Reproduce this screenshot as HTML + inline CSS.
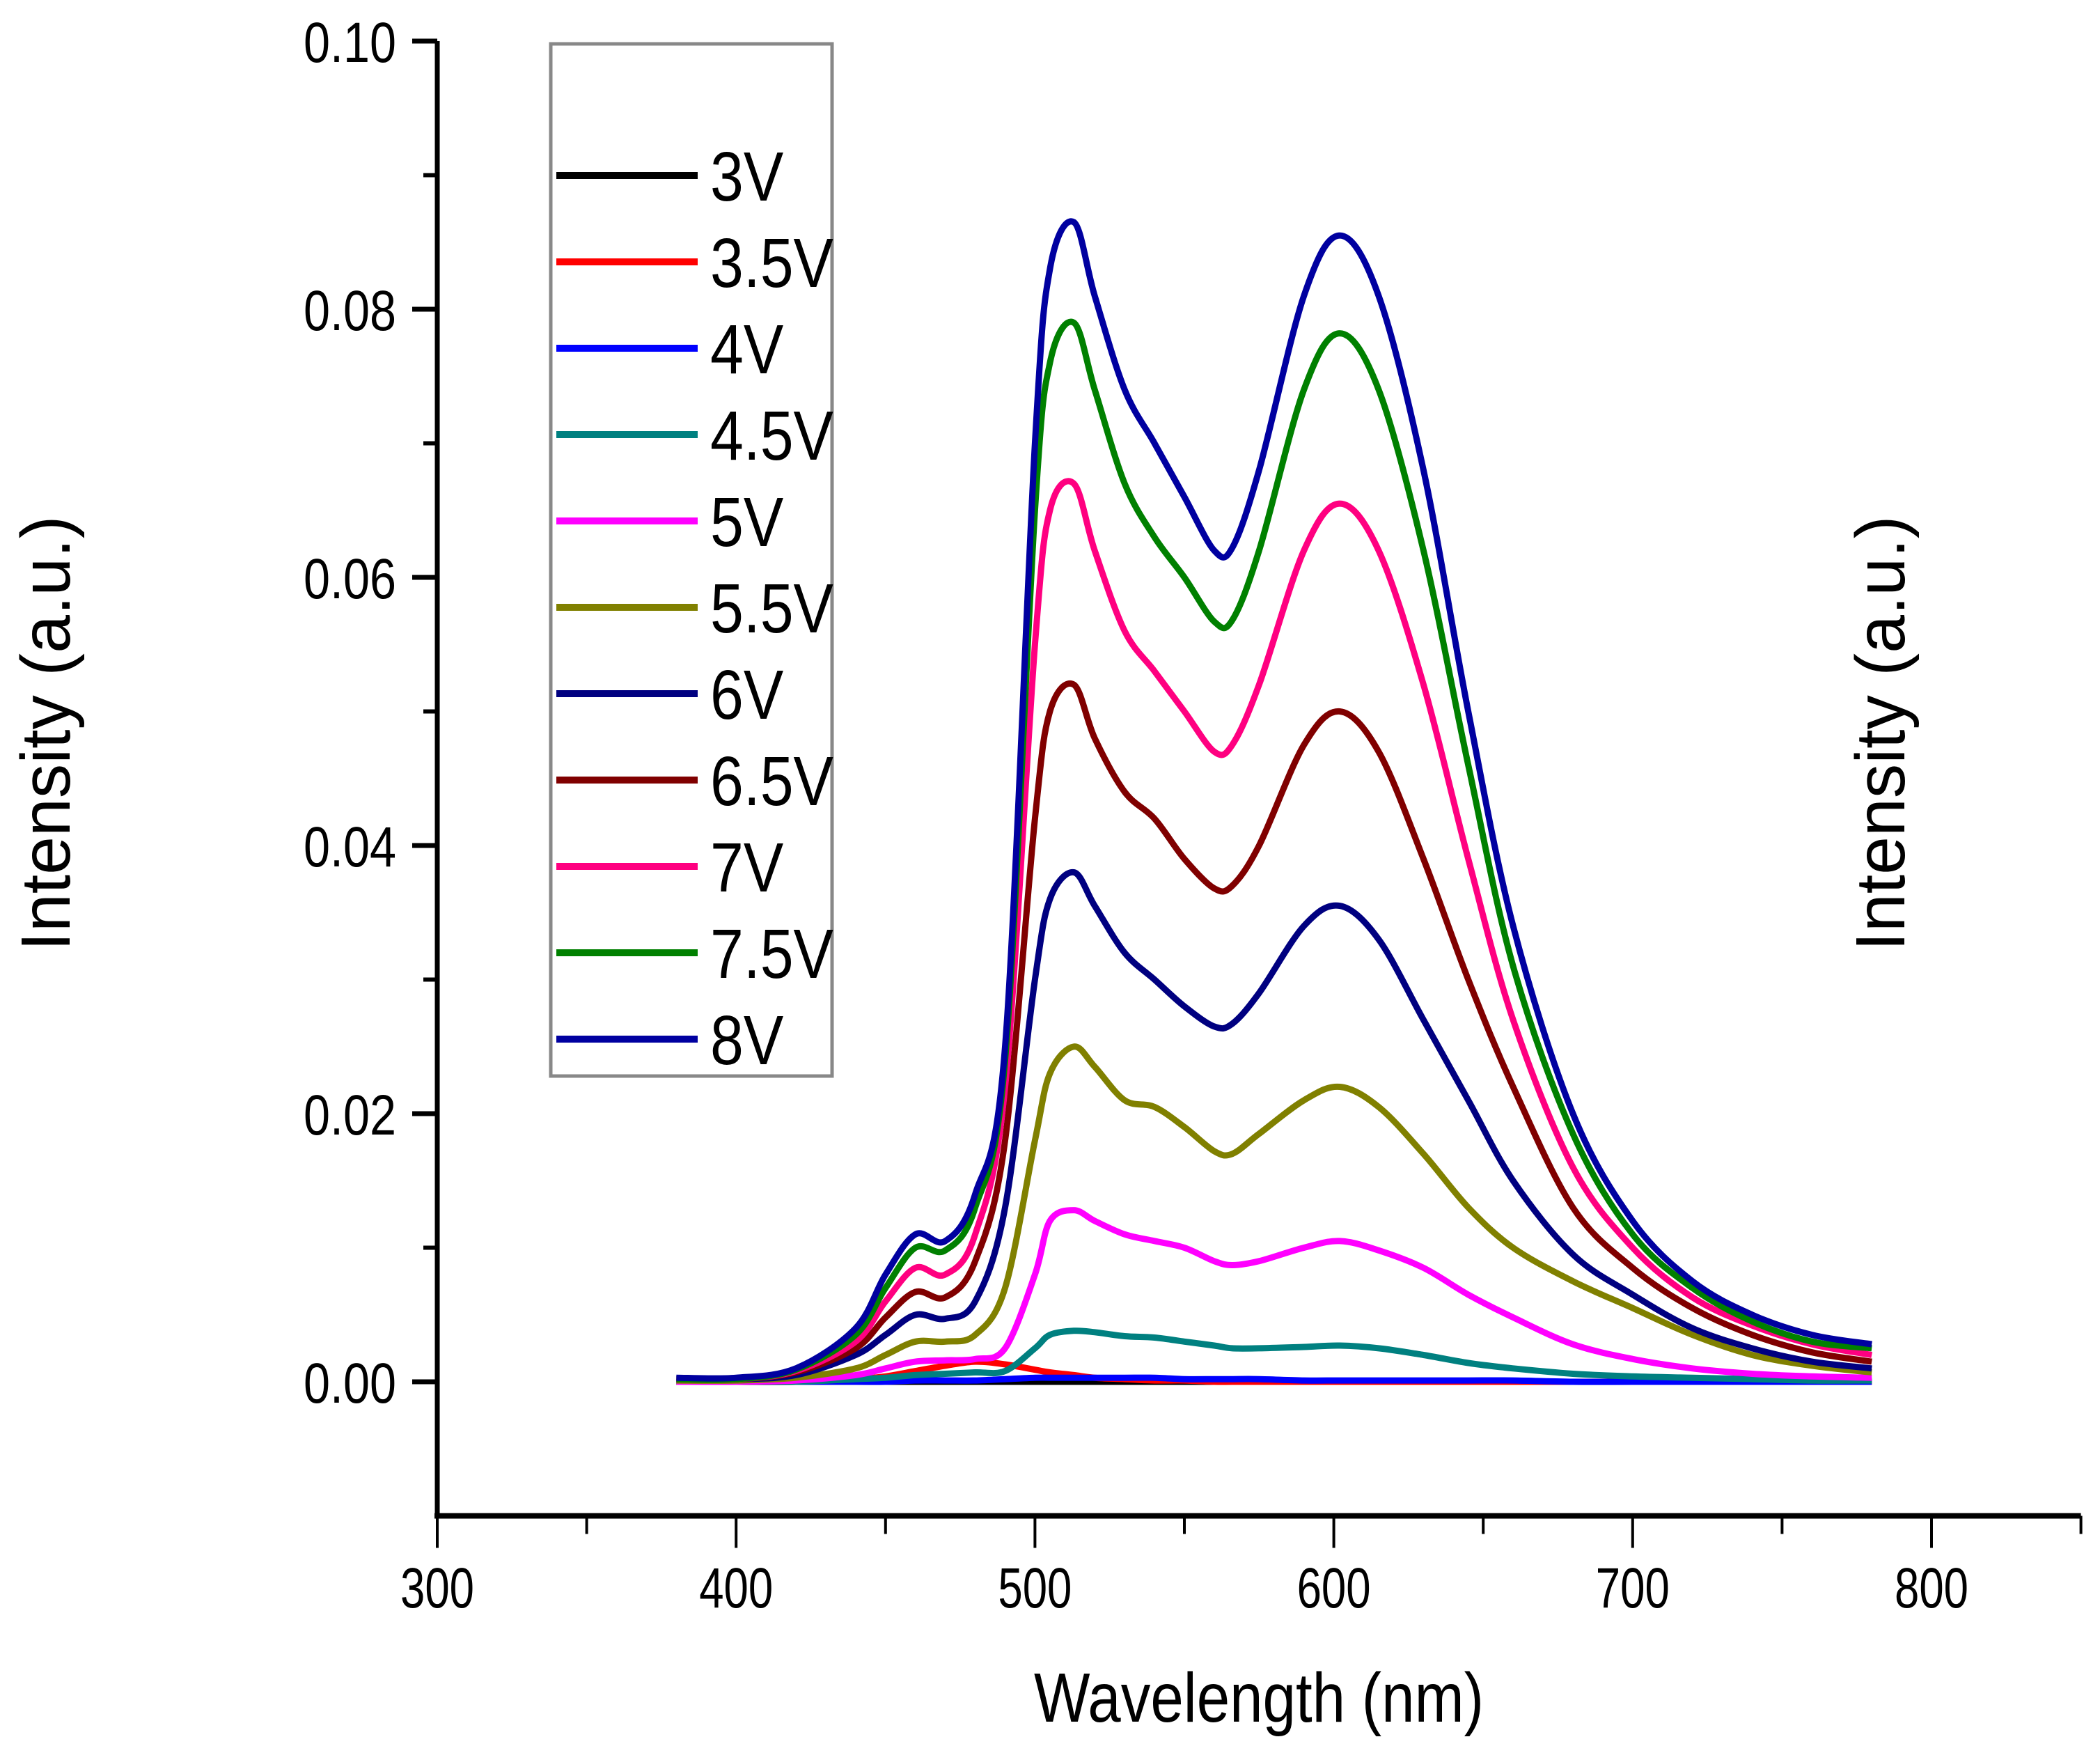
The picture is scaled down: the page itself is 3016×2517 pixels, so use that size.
<!DOCTYPE html>
<html><head><meta charset="utf-8"><style>
html,body{margin:0;padding:0;background:#fff;}
svg{display:block;font-family:"Liberation Sans",Arial,sans-serif;}
</style></head><body>
<svg id="chart" width="3016" height="2517" viewBox="0 0 3016 2517" xmlns="http://www.w3.org/2000/svg">
<rect x="0" y="0" width="3016" height="2517" fill="#fff"/>
<g id="axes"></g>
<g id="series"></g>
<g id="legend"></g>
<text x="1808" y="2472" font-size="100" text-anchor="middle" textLength="646" lengthAdjust="spacingAndGlyphs">Wavelength (nm)</text>
<text x="0" y="0" font-size="100" text-anchor="middle" textLength="625" lengthAdjust="spacingAndGlyphs" transform="translate(100,1053) rotate(-90)">Intensity (a.u.)</text>
<text x="0" y="0" font-size="100" text-anchor="middle" textLength="625" lengthAdjust="spacingAndGlyphs" transform="translate(2735,1053) rotate(-90)">Intensity (a.u.)</text>
</svg>
<script>
const wavelengths = [380,400,420,440,450,460,470,480,490,500,505,513,520,530,540,550,560,566,575,590,602,615,630,645,660,680,700,720,740,760,780];
const seriesNames = ["3V","3.5V","4V","4.5V","5V","5.5V","6V","6.5V","7V","7.5V","8V"];
const seriesColors = ["#000000","#ff0000","#0000ff","#008080","#ff00ff","#808000","#000080","#800000","#ff0080","#008000","#0000a0"];
const v3 = [0,0,0,0,0,0,0,0,0,0,0,0,0,0,0,0,0,0,0,0,0,0,0,0,0,0,0,0,0,0,0];
const v35 = [0,0,0,.0002,.0004,.0008,.0012,.0015,.0013,.0009,.0007,.0005,.0003,.0002,.0001,.0001,0,0,0,0,0,0,0,0,0,0,0,0,0,0,0];
const v4 = [0,0,0,0,0,.0001,.0001,.0001,.0002,.0003,.0003,.0003,.0003,.0003,.0003,.0002,.0002,.0002,.0002,.0001,.0001,.0001,.0001,.0001,.0001,0,0,0,0,0,0];
const v45 = [0,0,0,.0002,.0003,.0005,.0006,.0007,.0008,.0025,.0035,.0038,.0037,.0034,.0033,.003,.0027,.0025,.0025,.0026,.0027,.0025,.002,.0014,.001,.0006,.0004,.0003,.0002,.0001,.0001];
const v5 = [0,0,.0001,.0005,.001,.0015,.0016,.0017,.0025,.008,.012,.0128,.012,.011,.0105,.010,.009,.0087,.009,.010,.0105,.0098,.0085,.0065,.0048,.0028,.0017,.001,.0006,.0004,.0003];
const v55 = [.0001,.0001,.0003,.001,.002,.003,.003,.0035,.007,.018,.023,.025,.0235,.021,.0205,.019,.0172,.017,.0185,.021,.022,.0205,.017,.013,.010,.0075,.0055,.0035,.002,.0012,.0007];
const v6 = [.0002,.0002,.0005,.002,.0035,.005,.0047,.006,.013,.030,.036,.038,.0355,.032,.030,.028,.0265,.0267,.029,.034,.0355,.033,.027,.021,.015,.0095,.0065,.004,.0025,.0015,.001];
const v65 = [.0002,.0002,.0007,.0025,.0048,.0067,.0063,.009,.018,.042,.050,.052,.048,.044,.042,.039,.0368,.037,.040,.0475,.050,.047,.039,.030,.022,.013,.0085,.0055,.0035,.0022,.0015];
const v7 = [.0002,.0002,.0008,.003,.006,.0085,.008,.011,.022,.055,.065,.067,.062,.056,.053,.050,.047,.0475,.052,.062,.0655,.062,.052,.039,.027,.016,.010,.0063,.0042,.0028,.002];
const v75 = [.0002,.0002,.0009,.0035,.007,.010,.0098,.013,.024,.065,.076,.079,.074,.067,.063,.060,.0567,.0568,.062,.074,.0782,.074,.062,.046,.031,.0185,.011,.007,.0045,.003,.0025];
const v8 = [.0003,.0003,.001,.004,.008,.011,.0105,.014,.025,.070,.083,.0865,.081,.074,.070,.066,.062,.0622,.068,.081,.0855,.081,.068,.050,.034,.020,.012,.0075,.005,.0035,.0028];
const xMajorTicks = [300,400,500,600,700,800];
const xMinorTicks = [350,450,550,650,750,850];
const yMajorTicks = [0,0.02,0.04,0.06,0.08,0.10];
const yTickLabels = ["0.00","0.02","0.04","0.06","0.08","0.10"];
const yMinorTicks = [0.01,0.03,0.05,0.07,0.09];
const allSeries = [v3,v35,v4,v45,v5,v55,v6,v65,v7,v75,v8];

const NS = "http://www.w3.org/2000/svg";
const X0 = 628, PX_PER_NM = 4.292, Y0 = 1984, PX_PER_UNIT = 19250;
function xs(nm){ return X0 + (nm - 300) * PX_PER_NM; }
function ys(v){ return Y0 - v * PX_PER_UNIT; }
function mk(tag, attrs, parent){ const e = document.createElementNS(NS, tag); for (const k in attrs) e.setAttribute(k, attrs[k]); parent.appendChild(e); return e; }

const axes = document.getElementById('axes');
const yBottom = ys(-0.01), yTop = ys(0.10), xRight = xs(850);
let l = mk('line', {x1:X0, y1:yTop, x2:X0, y2:yBottom+4, stroke:'#000','stroke-width':7}, axes);


l = mk('line', {x1:X0-4, y1:yBottom, x2:xRight, y2:yBottom, stroke:'#000','stroke-width':8}, axes);


xMajorTicks.forEach(function(t){
  const tk = mk('line', {x1:xs(t), y1:yBottom, x2:xs(t), y2:yBottom+46, stroke:'#000','stroke-width':4}, axes);
  
  
  const tx = mk('text', {x:xs(t), y:2308, 'font-size':82, 'text-anchor':'middle', textLength:106, lengthAdjust:'spacingAndGlyphs'}, axes);
  tx.textContent = String(t);
  
  
});
xMinorTicks.forEach(function(t){
  const tk = mk('line', {x1:xs(t), y1:yBottom, x2:xs(t), y2:yBottom+26, stroke:'#000','stroke-width':4}, axes);
  
  
});
yMajorTicks.forEach(function(t, i){
  const tk = mk('line', {x1:X0-36, y1:ys(t), x2:X0, y2:ys(t), stroke:'#000','stroke-width':7}, axes);
  
  
  const tx = mk('text', {x:569, y:ys(t)+30, 'font-size':82, 'text-anchor':'end', textLength:133, lengthAdjust:'spacingAndGlyphs'}, axes);
  tx.textContent = yTickLabels[i];
  
  
});
yMinorTicks.forEach(function(t){
  const tk = mk('line', {x1:X0-20, y1:ys(t), x2:X0, y2:ys(t), stroke:'#000','stroke-width':6}, axes);
  
  
});

function smoothPath(pts){
  let d = 'M' + pts[0][0].toFixed(1) + ',' + pts[0][1].toFixed(1);
  for (let i = 0; i < pts.length - 1; i++){
    const p0 = pts[Math.max(0,i-1)], p1 = pts[i], p2 = pts[i+1], p3 = pts[Math.min(pts.length-1,i+2)];
    const c1x = p1[0] + (p2[0]-p0[0])/6, c1y = p1[1] + (p2[1]-p0[1])/6;
    const c2x = p2[0] - (p3[0]-p1[0])/6, c2y = p2[1] - (p3[1]-p1[1])/6;
    d += ' C' + c1x.toFixed(1) + ',' + c1y.toFixed(1) + ' ' + c2x.toFixed(1) + ',' + c2y.toFixed(1) + ' ' + p2[0].toFixed(1) + ',' + p2[1].toFixed(1);
  }
  return d;
}
const sg = document.getElementById('series');
allSeries.forEach(function(vals, si){
  const pts = wavelengths.map(function(w, i){ return [xs(w), ys(vals[i])]; });
  const p = mk('path', {d: smoothPath(pts), fill:'none', stroke: seriesColors[si], 'stroke-width':9, 'stroke-linejoin':'round'}, sg);
  
  
});

const lg = document.getElementById('legend');
const box = mk('rect', {x:791, y:63, width:404, height:1482, fill:'#fff', stroke:'#888', 'stroke-width':5}, lg);


seriesNames.forEach(function(n, i){
  const cy = 252 + i * 124;
  const ln = mk('line', {x1:799, y1:cy, x2:1002, y2:cy, stroke:seriesColors[i], 'stroke-width':10}, lg);
  
  
  const tx = mk('text', {x:0, y:0, 'font-size':100, transform:'translate(1020,' + (cy+36) + ') scale(0.86,1)'}, lg);
  tx.textContent = n;
  
  
});
</script>
</body></html>
